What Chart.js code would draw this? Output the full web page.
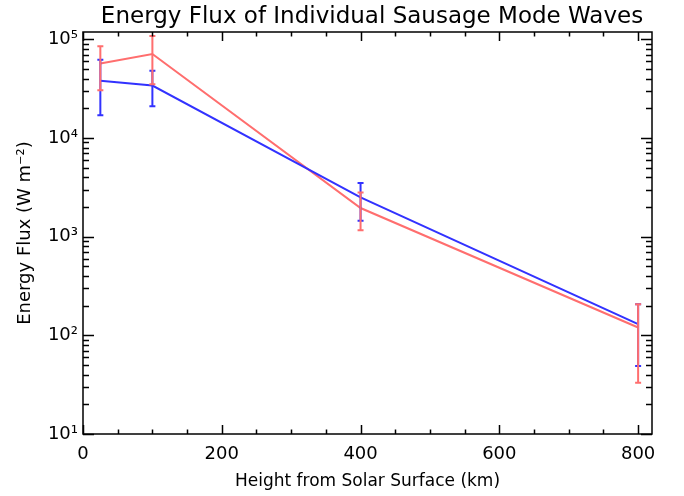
<!DOCTYPE html>
<html>
<head>
<meta charset="utf-8">
<script src="https://cdn.jsdelivr.net/npm/chart.js@4.4.1/dist/chart.umd.min.js"></script>
<style>
  html, body { margin: 0; padding: 0; background: #fff; }
  #wrap { width: 684px; height: 496px; }
</style>
</head>
<body>
<div id="wrap"><canvas id="fluxChart" width="684" height="496"></canvas></div>
<script>
// heights (km) and energy flux values
const heights = [25, 100, 400, 800];
const fluxBlue = [38000, 34000, 2500, 130];
const fluxBlueLo = [17000, 21000, 1450, 49];
const fluxBlueHi = [62000, 48000, 3500, 207];
const fluxRed = [57000, 71000, 1950, 120];
const fluxRedLo = [30500, 35000, 1160, 33];
const fluxRedHi = [85000, 108000, 2800, 207];
const xTicks = [0, 200, 400, 600, 800];
const yTicks = [10, 100, 1000, 10000, 100000];
const supers = ['⁰', '¹', '²', '³', '⁴', '⁵'];

const blue = '#3232ff';
const red = '#ff6e6e';
const font = 'DejaVu Sans';

// error bars, drawn through the chart scales
const errorBars = {
  id: 'errorBars',
  afterDatasetsDraw(chart) {
    const xs = chart.scales.x, ys = chart.scales.y, ctx = chart.ctx;
    chart.data.datasets.forEach((ds) => {
      ctx.save();
      ctx.strokeStyle = ds.borderColor;
      ctx.lineWidth = 2;
      ds.data.forEach((p, i) => {
        const px = xs.getPixelForValue(p.x);
        const top = ys.getPixelForValue(ds.hi[i]);
        const bot = ys.getPixelForValue(ds.lo[i]);
        ctx.beginPath();
        ctx.moveTo(px, top); ctx.lineTo(px, bot);
        ctx.moveTo(px - 3, top); ctx.lineTo(px + 3, top);
        ctx.moveTo(px - 3, bot); ctx.lineTo(px + 3, bot);
        ctx.stroke();
      });
      ctx.restore();
    });
  }
};

// frame, inward ticks, title
const frame = {
  id: 'frame',
  afterDraw(chart) {
    const ctx = chart.ctx, a = chart.chartArea;
    const xs = chart.scales.x, ys = chart.scales.y;
    ctx.save();
    ctx.strokeStyle = '#000';
    ctx.lineWidth = 1.5;
    ctx.strokeRect(a.left, a.top, a.right - a.left, a.bottom - a.top);
    ctx.beginPath();
    for (let v = 0; v <= 800; v += 50) {
      const px = Math.round(xs.getPixelForValue(v)) + 0.5;
      const len = v % 200 === 0 ? 9 : 4.5;
      ctx.moveTo(px, a.bottom); ctx.lineTo(px, a.bottom - len);
      ctx.moveTo(px, a.top); ctx.lineTo(px, a.top + len);
    }
    for (let e = 1; e <= 5; e++) {
      for (let m = 1; m <= 9; m++) {
        const v = m * Math.pow(10, e);
        if (v > ys.max) continue;
        const py = Math.round(ys.getPixelForValue(v)) + 0.5;
        const len = m === 1 ? 11 : 6;
        ctx.moveTo(a.left, py); ctx.lineTo(a.left + len, py);
        ctx.moveTo(a.right, py); ctx.lineTo(a.right - len, py);
      }
    }
    ctx.stroke();
    ctx.fillStyle = '#000';
    ctx.textAlign = 'center';
    ctx.textBaseline = 'alphabetic';
    ctx.font = '23px "' + font + '"';
    ctx.fillText('Energy Flux of Individual Sausage Mode Waves', 372, 23);
    ctx.restore();
  }
};

const ctx = document.getElementById('fluxChart').getContext('2d');
new Chart(ctx, {
  type: 'line',
  data: {
    datasets: [
      {
        data: heights.map((h, i) => ({ x: h, y: fluxBlue[i] })),
        lo: fluxBlueLo, hi: fluxBlueHi,
        borderColor: blue, borderWidth: 2, pointRadius: 0, tension: 0
      },
      {
        data: heights.map((h, i) => ({ x: h, y: fluxRed[i] })),
        lo: fluxRedLo, hi: fluxRedHi,
        borderColor: red, borderWidth: 2, pointRadius: 0, tension: 0
      }
    ]
  },
  options: {
    responsive: false,
    animation: false,
    layout: { padding: { top: 32, right: 32, left: 0, bottom: 0 } },
    plugins: { legend: { display: false }, tooltip: { enabled: false } },
    scales: {
      x: {
        type: 'linear', min: 0, max: 820,
        afterBuildTicks: (s) => { s.ticks = xTicks.map(v => ({ value: v })); },
        afterFit: (s) => { s.height = 62; },
        grid: { display: false, drawTicks: false },
        border: { display: false },
        ticks: { color: '#000', font: { family: font, size: 18 }, padding: 10, maxRotation: 0 },
        title: { display: true, text: 'Height from Solar Surface (km)', color: '#000',
                 font: { family: font, size: 17 }, padding: { top: 4 } }
      },
      y: {
        type: 'logarithmic', min: 10, max: 118600,
        afterBuildTicks: (s) => { s.ticks = yTicks.map(v => ({ value: v })); },
        afterFit: (s) => { s.width = 83; },
        grid: { display: false, drawTicks: false },
        border: { display: false },
        ticks: {
          color: '#000', font: { family: font, size: 18 }, padding: 5,
          callback: (v) => '10' + supers[Math.round(Math.log10(v))]
        },
        title: { display: true, text: 'Energy Flux (W m⁻²)', color: '#000',
                 font: { family: font, size: 18 }, padding: { top: 15, bottom: 0 } }
      }
    }
  },
  plugins: [errorBars, frame]
});
</script>
</body>
</html>
